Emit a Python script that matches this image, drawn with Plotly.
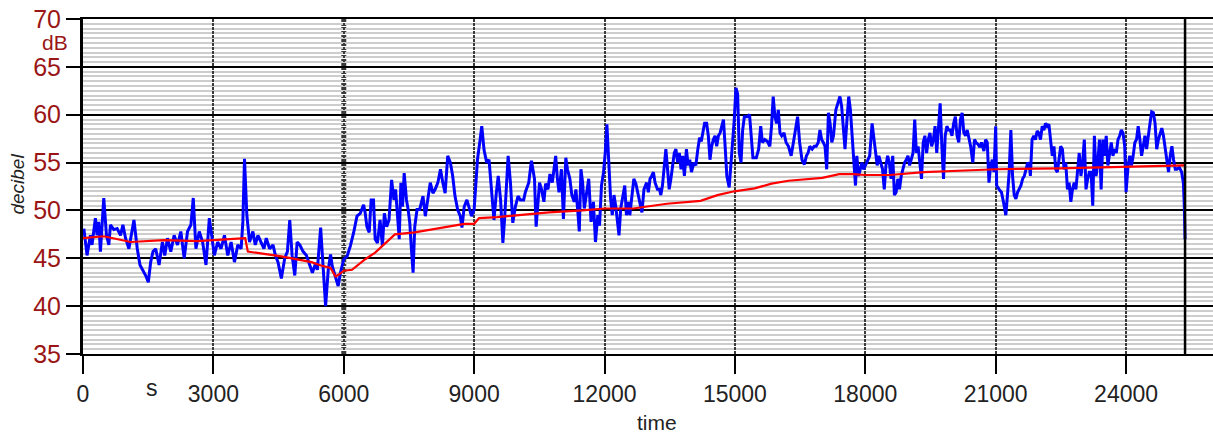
import plotly.graph_objects as go

# ---- data ----
blue_t = [20,93,170,208,285,324,362,401,478,540,594,632,709,786,864,918,979,1056,1172,1249,1311,1388,1442,1503,1557,1611,1673,1750,1827,1881,1943,2020,2097,2174,2251,2328,2405,2483,2537,2598,2675,2752,2830,2907,2961,3022,3099,3177,3254,3331,3408,3485,3562,3639,3678,3716,3770,3832,3909,3963,4025,4102,4163,4217,4294,4372,4426,4487,4564,4641,4703,4757,4811,4873,4927,4988,5065,5142,
          5278,5354,5392,5468,5522,5582,5643,5696,5734,5810,5871,5924,6000,6076,6152,6228,6304,6380,6456,6494,6532,6585,6630,6684,6722,6775,6835,6889,6934,6987,7041,7101,7154,7192,7238,7276,7314,7352,7390,7443,7481,7519,7557,7595,7633,7686,7747,7823,7876,7937,7990,8051,8104,8165,8225,8279,8332,8392,8453,8506,8559,8620,8681,8719,8772,8833,8886,8939,9000,9076,9137,9175,9228,9289,9342,9380,9418,9456,9509,9554,9608,9661,9699,9744,9782,9835,9889,9949,10010,10063,10139,
          10178,10256,10318,10388,10426,10465,10504,10550,10605,10643,10698,10744,10798,10837,10876,10915,10953,11008,11054,11109,11147,11202,11248,11302,11341,11380,11419,11457,11496,11535,11589,11636,11690,11744,11791,11845,11884,11930,11977,12016,12054,12101,12140,12178,12217,12256,12295,12333,12372,12426,12465,12504,12550,12581,12636,12674,12721,12775,12814,12860,12907,12969,13008,13047,13085,13124,13163,13217,13264,13295,13333,13372,13411,13450,13488,13527,13566,13605,13643,13682,13721,13760,13798,13837,13884,13923,13961,14000,14054,14101,14147,14186,14225,14264,14302,14349,14388,14426,14465,14504,14543,14581,14620,14659,14698,14736,14775,14814,14868,14907,14946,14985,15023,15062,15101,15140,15178,15217,15279,
          15336,15375,15414,15492,15546,15593,15632,15687,15749,15803,15842,15881,15920,15959,15998,16037,16076,16130,16177,16232,16294,16349,16403,16442,16489,16543,16598,16645,16683,16722,16777,16824,16870,16917,16956,16995,17034,17073,17112,17151,17190,17229,17268,17322,17369,17416,17455,17494,17533,17572,17618,17657,17696,17735,17774,17805,17844,17883,17922,17961,18000,18047,18101,18156,18195,18234,18273,18312,18358,18397,18436,18475,18514,18553,18592,18631,18670,18709,18748,18787,18826,18865,18904,18943,18982,19020,19059,19098,19137,19176,19215,19254,19293,19332,19371,19410,19449,19488,19527,19566,19605,19644,19683,19722,19761,19800,19838,19877,19916,19955,19994,20033,20072,20111,20150,20189,20228,20267,20306,20345,20423,
          20473,20512,20550,20597,20636,20674,20729,20767,20806,20845,20884,20922,20961,21000,21023,21078,21132,21178,21233,21271,21310,21349,21388,21426,21465,21504,21543,21581,21620,21659,21698,21736,21775,21798,21837,21876,21915,21954,21992,22031,22070,22109,22147,22186,22225,22264,22302,22341,22380,22419,22457,22496,22535,22574,22612,22651,22690,22729,22767,22806,22845,22884,22922,22961,23000,23039,23078,23116,23155,23194,23233,23271,23310,23349,23388,23426,23465,23504,23543,23581,23620,23659,23698,23736,23775,23814,23853,23891,23930,23969,24000,24047,24085,24124,24163,24202,24240,24279,24318,24357,24395,24434,24473,24512,24550,24589,24628,24667,24705,24744,24783,24822,24860,24899,24938,24977,25015,25054,25093,25132,25170,25225,25279,25318,25340,25357]
blue_db = [48.1,45.3,47.4,46.4,49.2,47.4,48.8,45.7,51.3,47.4,46.4,48.5,48.0,48.1,47.4,48.5,47.1,46.0,49.0,46.0,44.3,43.7,43.2,42.5,44.6,45.7,46.0,44.3,46.7,45.3,47.1,45.7,47.4,46.4,47.8,45.0,47.8,48.5,51.3,46.0,47.8,46.7,44.3,49.2,47.1,45.3,46.7,46.0,47.4,45.3,46.7,44.6,46.4,46.0,48.8,55.4,49.5,46.7,47.8,46.4,47.4,46.7,46.0,47.1,46.0,46.4,45.3,44.6,42.9,45.0,45.7,49.0,45.3,43.2,46.7,46.4,45.7,45.3,
           43.5,44.5,43.8,48.2,44.2,40.0,43.8,45.4,44.2,43.1,42.1,43.5,44.9,45.2,46.3,47.7,49.4,49.7,50.6,49.7,48.3,47.7,51.1,51.1,47.0,46.6,49.0,46.3,49.7,48.3,49.0,53.2,51.1,52.2,49.4,47.0,52.9,50.4,53.9,51.1,50.1,48.7,45.9,43.5,48.3,50.1,50.1,51.5,49.4,51.1,52.9,51.8,52.2,52.9,54.3,52.9,51.8,55.7,55.0,53.6,51.5,50.1,49.4,48.2,50.4,51.1,50.1,49.4,50.1,55.3,57.4,58.8,56.3,55.0,55.3,53.2,51.1,49.0,51.8,53.6,51.1,46.6,49.0,52.5,55.7,52.9,48.7,50.4,51.5,51.1,51.1,
           51.9,52.9,55.2,53.3,48.3,50.2,52.9,52.2,50.9,52.8,52.2,53.8,52.9,54.3,55.7,53.3,51.9,54.3,49.1,55.5,54.3,53.3,51.6,50.9,52.2,50.2,47.8,54.3,52.9,50.2,52.2,53.3,48.8,50.9,46.7,49.5,48.4,52.6,54.0,56.0,59.0,55.0,51.2,49.5,51.6,50.5,49.1,47.4,50.2,51.6,52.6,49.5,50.9,49.5,51.9,53.3,52.8,51.6,50.9,49.8,52.2,52.9,51.9,53.3,53.6,54.0,52.9,52.2,52.2,51.6,52.6,54.7,56.4,54.3,52.2,53.3,55.0,56.0,56.4,55.0,56.0,54.3,55.7,53.6,56.4,54.7,55.3,54.0,55.0,54.7,56.4,57.6,57.2,58.4,59.1,59.1,57.8,55.3,56.7,57.4,57.8,56.7,57.8,58.1,58.8,59.5,56.7,53.6,52.4,54.7,57.8,59.5,62.8,62.2,56.0,55.0,58.4,59.8,59.8,
           60.0,57.8,55.5,55.5,56.4,58.8,57.1,57.4,57.2,56.7,58.8,61.9,59.8,59.1,60.5,58.1,57.8,58.1,57.1,56.7,55.7,57.2,58.8,59.8,57.1,55.3,54.8,55.7,56.0,56.7,56.4,56.7,56.7,57.1,58.4,57.4,57.1,56.7,54.3,60.2,59.1,57.1,57.8,60.5,61.2,61.9,60.9,58.4,56.4,59.1,61.9,60.5,57.8,55.0,52.6,55.7,53.6,54.3,55.0,54.3,54.7,55.3,55.7,59.1,57.8,56.0,54.7,55.7,55.0,54.3,52.2,54.7,55.7,55.0,53.3,55.7,51.6,51.9,53.3,52.2,53.6,54.3,55.0,55.3,55.7,54.7,55.3,56.0,59.5,56.0,56.7,55.0,53.3,57.1,57.8,56.0,57.4,58.1,56.7,57.4,58.8,56.0,58.4,61.2,56.7,53.3,57.8,58.8,58.4,58.4,57.8,59.1,59.8,57.8,57.1,59.5,60.2,58.1,57.8,58.4,56.7,
           55.0,57.4,57.1,56.9,56.6,57.1,56.2,57.4,57.1,52.9,54.7,55.3,54.0,58.8,52.6,52.2,51.9,50.9,49.5,51.6,54.0,58.4,53.6,51.6,51.2,51.9,52.2,52.6,53.3,53.6,54.3,55.0,54.7,53.6,57.4,57.8,57.4,58.3,58.1,57.4,58.8,58.4,59.1,58.8,59.0,57.1,55.7,56.7,54.3,54.0,55.3,56.7,56.4,54.3,55.0,52.2,52.9,50.9,52.2,52.9,52.2,54.3,56.0,53.6,55.0,57.4,52.2,53.3,54.0,54.0,50.5,57.8,53.6,55.0,57.4,52.2,57.4,55.7,57.8,54.7,56.0,57.1,55.7,56.4,56.0,57.4,57.8,58.4,58.1,56.7,51.9,54.7,55.7,54.7,55.7,57.1,57.4,58.8,57.4,55.7,56.7,57.8,56.4,58.1,59.1,60.3,60.2,59.1,56.4,57.4,58.1,58.6,57.8,56.4,55.0,54.0,55.7,56.7,55.3,54.3,54.3,54.5,54.0,52.9,50.5,47.0]

red_t = [0,478,1095,1866,2637,3678,3732,3793,4564,5258,5506,5696,5810,5886,6000,6190,6494,6722,6949,7063,7177,7633,8013,8392,8772,9000,9114,9532,10215,10721,11496,12000,12659,13434,14209,14597,14985,15453,15842,16232,17011,17400,17712,18000,18569,19348,20438,21000,22473,24000,25264,25340]
red_db = [47.1,47.3,46.7,46.9,46.8,47.1,47.1,45.7,45.2,44.6,44.2,44.0,43.1,43.3,43.7,43.8,44.9,45.6,46.6,47.1,47.5,47.7,48.0,48.3,48.6,48.6,49.2,49.3,49.6,49.8,50.0,50.2,50.2,50.7,51.0,51.6,52.0,52.3,52.8,53.1,53.4,53.8,53.8,53.7,53.7,54.0,54.2,54.3,54.4,54.6,54.7,54.7]

x_ticks = [0, 3000, 6000, 9000, 12000, 15000, 18000, 21000, 24000]
y_ticks = [35, 40, 45, 50, 55, 60, 65, 70]
x_range = [0, 26000]
y_range = [35, 70]
unit_label_y = "dB"
unit_label_x = "s"
x_title = "time"
y_title = "decibel"
marked_time = 6000

FONT = "Liberation Sans, Arial, sans-serif"
RED_TXT = "#9a1616"

fig = go.Figure()
fig.add_trace(go.Scatter(x=blue_t, y=blue_db, mode="lines",
                         line=dict(color="#0000ff", width=3), showlegend=False))
fig.add_trace(go.Scatter(x=red_t, y=red_db, mode="lines",
                         line=dict(color="#ff0000", width=2.2), showlegend=False))

fig.update_layout(
    width=1213, height=434,
    margin=dict(l=83, r=0, t=19, b=80, autoexpand=False),
    plot_bgcolor="white", paper_bgcolor="white",
    font=dict(family=FONT),
    showlegend=False,
)
fig.update_xaxes(
    automargin=False,
    range=x_range, tickvals=x_ticks, ticktext=[str(v) for v in x_ticks],
    showgrid=True, gridcolor="#3a3a3a", gridwidth=2, griddash="3px,1px",
    showline=True, linecolor="black", linewidth=2, mirror=True,
    ticks="outside", ticklen=18, tickwidth=2, tickcolor="black",
    tickfont=dict(size=23, color="#222222", family=FONT),
    zeroline=False,
)
fig.update_yaxes(
    automargin=False,
    range=y_range, tickvals=y_ticks, ticktext=[str(v) for v in y_ticks],
    showgrid=True, gridcolor="black", gridwidth=2,
    minor=dict(dtick=0.5, showgrid=True, gridcolor="#cdcdcd", gridwidth=2, ticks=""),
    showline=True, linecolor="black", linewidth=3,
    ticks="outside", ticklen=14, tickwidth=2, tickcolor="black",
    tickfont=dict(size=25, color=RED_TXT, family=FONT),
    zeroline=False,
)

# emphasised vertical line and end-of-record line
fig.add_shape(type="line", xref="x", yref="paper", x0=marked_time, x1=marked_time, y0=0, y1=1,
              line=dict(color="#3a3a3a", width=5, dash="3px,1px"), layer="below")
fig.add_shape(type="line", xref="x", yref="paper", x0=blue_t[-1], x1=blue_t[-1], y0=0, y1=1,
              line=dict(color="black", width=2.5))

fig.add_annotation(text=unit_label_y, xref="paper", yref="y", x=0, y=67.5,
                   xanchor="right", yanchor="middle", xshift=-14, showarrow=False,
                   borderpad=0, font=dict(size=21, color=RED_TXT, family=FONT))
fig.add_annotation(text=unit_label_x, xref="x", yref="paper", x=1590, y=-0.1,
                   xanchor="center", yanchor="middle", showarrow=False,
                   font=dict(size=23, color="#222222", family=FONT))
fig.add_annotation(text=x_title, xref="x", yref="paper", x=13205, y=-0.203,
                   xanchor="center", yanchor="middle", showarrow=False,
                   font=dict(size=21, color="#222222", family=FONT))
fig.add_annotation(text="<i>" + y_title + "</i>", xref="paper", yref="y", x=0, y=52.7,
                   xanchor="center", yanchor="middle", xshift=-65, textangle=-90,
                   showarrow=False, font=dict(size=19, color="#222222", family=FONT))

fig.write_html("out.html", config={"displayModeBar": False},
               post_script="document.body.style.margin='0';document.body.style.overflow='hidden';")
